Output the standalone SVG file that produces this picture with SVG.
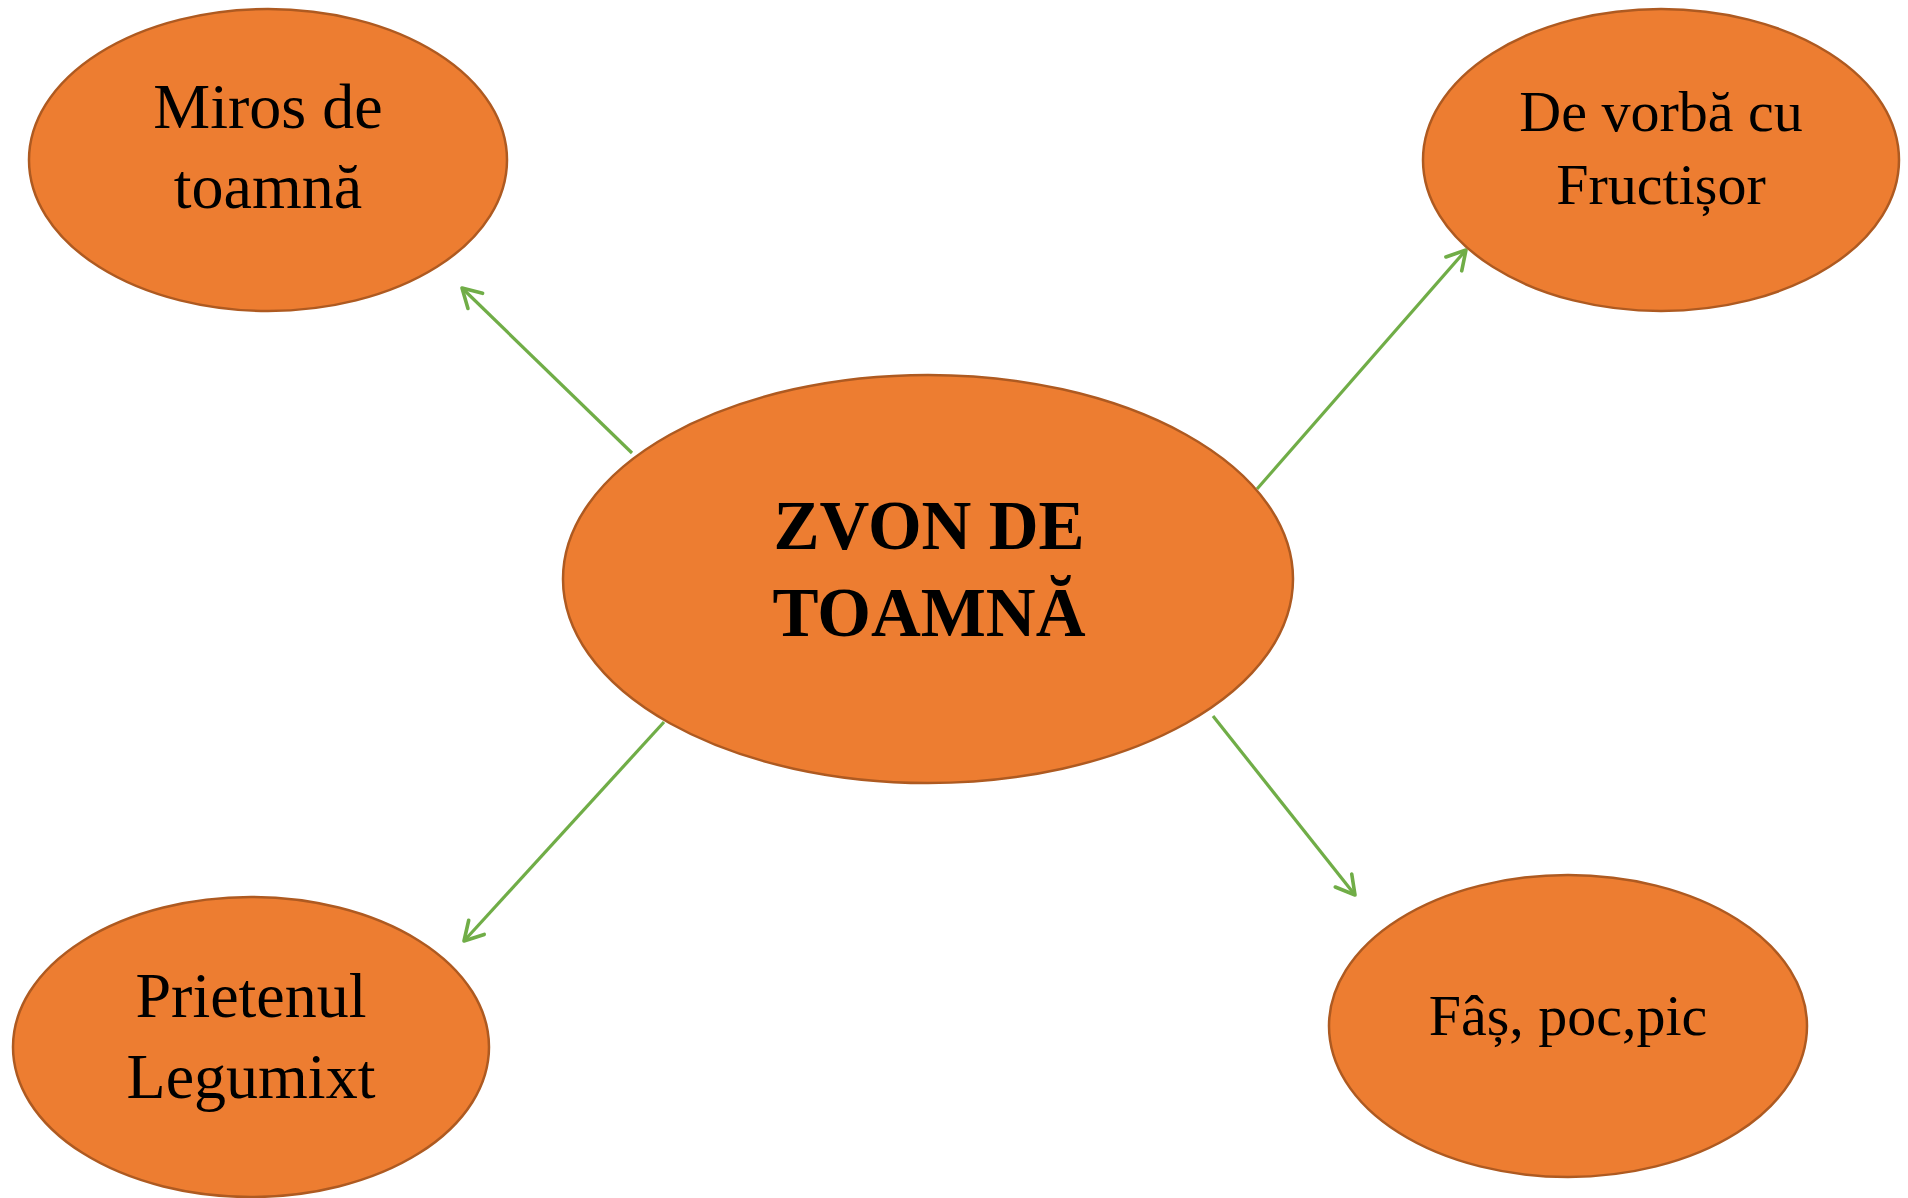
<svg xmlns="http://www.w3.org/2000/svg" width="1908" height="1198" viewBox="0 0 1908 1198">
  <style>
    .node { fill: #ED7D31; stroke: #AE5A21; stroke-width: 2.5; }
    .lbl { font-family: "Liberation Serif", "Times New Roman", serif; fill: #000; text-anchor: middle; }
    .title { font-weight: bold; font-size: 69px; }
    .conn { stroke: #70AD47; stroke-width: 3.2; fill: none; marker-end: url(#arrow); }
  </style>
  <defs>
    <marker id="arrow" markerUnits="userSpaceOnUse" viewBox="-24 -14 28 28" markerWidth="28" markerHeight="28" refX="0" refY="0" orient="auto">
      <path d="M -18.5 -10.5 L 0 0 L -18.5 10.5" fill="none" stroke="#70AD47" stroke-width="3.6" stroke-linecap="round" stroke-linejoin="round"/>
    </marker>
  </defs>
  <rect width="1908" height="1198" fill="#ffffff"/>
  <g id="connectors">
    <line class="conn" x1="632" y1="453" x2="462" y2="288"/>
    <line class="conn" x1="1257" y1="489" x2="1466" y2="250"/>
    <line class="conn" x1="664" y1="722" x2="464" y2="941"/>
    <line class="conn" x1="1213" y1="716" x2="1355" y2="895"/>
  </g>
  <g id="node-center">
    <ellipse class="node" cx="928" cy="579" rx="365" ry="204"/>
    <text class="lbl title" x="929" y="549">ZVON DE</text>
    <text class="lbl title" x="929" y="636">TOAMNĂ</text>
  </g>
  <g id="node-miros">
    <ellipse class="node" cx="268" cy="160" rx="239" ry="151"/>
    <text class="lbl" font-size="64" x="268" y="128">Miros de</text>
    <text class="lbl" font-size="64" x="268" y="208">toamnă</text>
  </g>
  <g id="node-vorba">
    <ellipse class="node" cx="1661" cy="160" rx="238" ry="151"/>
    <text class="lbl" font-size="58" x="1661" y="131">De vorbă cu</text>
    <text class="lbl" font-size="58" x="1661" y="204">Fructișor</text>
  </g>
  <g id="node-prietenul">
    <ellipse class="node" cx="251" cy="1047" rx="238" ry="150"/>
    <text class="lbl" font-size="64" x="251" y="1017">Prietenul</text>
    <text class="lbl" font-size="64" x="251" y="1098">Legumixt</text>
  </g>
  <g id="node-fas">
    <ellipse class="node" cx="1568" cy="1026" rx="239" ry="151"/>
    <text class="lbl" font-size="58" x="1568" y="1035">Fâș, poc,pic</text>
  </g>
</svg>
